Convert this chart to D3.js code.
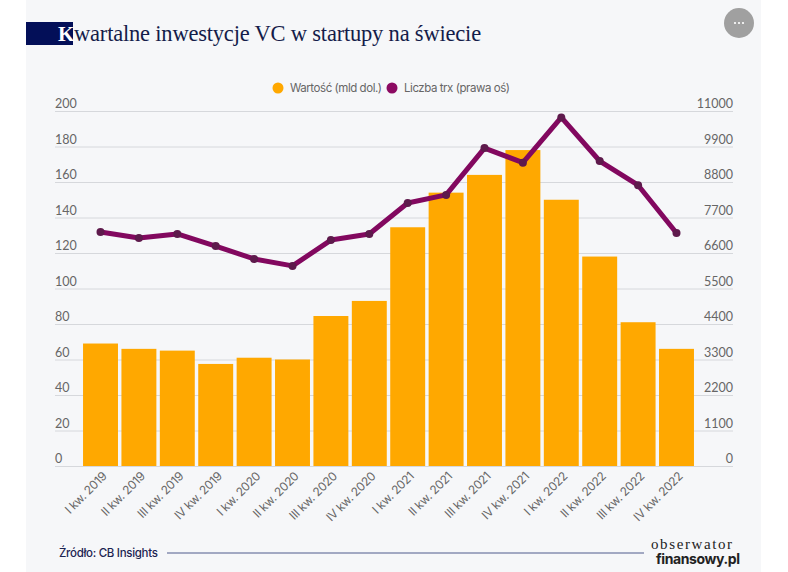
<!DOCTYPE html>
<html>
<head>
<meta charset="utf-8">
<script src="https://cdn.jsdelivr.net/npm/d3@7"></script>
<style>
  html, body { margin: 0; padding: 0; background: #fff; }
  svg { display: block; }
  .sans { font-family: Inter, Roboto, sans-serif; }
  .tick-label { font-family: Lato, sans-serif; }
  .serif { font-family: "Liberation Serif", serif; }
</style>
</head>
<body>
<svg id="chart" width="788" height="572"></svg>
<script>
const categories = ['I kw. 2019', 'II kw. 2019', 'III kw. 2019', 'IV kw. 2019',
  'I kw. 2020', 'II kw. 2020', 'III kw. 2020', 'IV kw. 2020',
  'I kw. 2021', 'II kw. 2021', 'III kw. 2021', 'IV kw. 2021',
  'I kw. 2022', 'II kw. 2022', 'III kw. 2022', 'IV kw. 2022'];
const wartosc = [69, 66, 65, 57.5, 61, 60, 84.5, 93, 134.5, 154, 164, 178, 150, 118, 81, 66];
const liczbaTrx = [7250, 7065, 7190, 6815, 6415, 6200, 7000, 7190, 8150, 8400, 9850, 9400, 10800, 9450, 8700, 7220];
const leftTicks = [0, 20, 40, 60, 80, 100, 120, 140, 160, 180, 200];
const rightTicks = [0, 1100, 2200, 3300, 4400, 5500, 6600, 7700, 8800, 9900, 11000];

const svg = d3.select('#chart');
const y0 = 466, y1 = 111, gridL = 55, gridR = 733;

// panel
svg.append('rect').attr('x', 26).attr('y', 0).attr('width', 735).attr('height', 572).attr('fill', '#f6f7f9');

// title
svg.append('rect').attr('x', 26).attr('y', 22).attr('width', 47).attr('height', 23).attr('fill', '#030f58');
svg.append('text').attr('class', 'serif').attr('x', 58).attr('y', 41)
  .attr('font-size', 21).attr('font-weight', 700).attr('fill', '#fff').text('K');
svg.append('text').attr('class', 'serif').attr('x', 74).attr('y', 41)
  .attr('font-size', 22.5).attr('letter-spacing', -0.2).attr('fill', '#141c4a').text('wartalne inwestycje VC w startupy na świecie');

// more button
svg.append('circle').attr('cx', 739).attr('cy', 23).attr('r', 15).attr('fill', '#a0a0a0');
svg.append('g').selectAll('circle').data([-4, 0, 4]).join('circle')
  .attr('cx', d => 739 + d).attr('cy', 23).attr('r', 1.1).attr('fill', '#fff');

const x = d3.scaleBand().domain(categories).range([81.5, 695.5]).paddingInner(0.09).paddingOuter(0.04);
const yL = d3.scaleLinear().domain([0, 200]).range([y0, y1]);
const yR = d3.scaleLinear().domain([0, 11000]).range([y0, y1]);

// grid + axis labels
const leftAxis = d3.axisLeft(yL).tickValues(leftTicks).tickFormat(d3.format('d')).tickSize(-(gridR - gridL)).tickPadding(0);
const gL = svg.append('g').attr('transform', `translate(${gridL},0)`).call(leftAxis);
gL.select('.domain').remove();
gL.selectAll('line').attr('stroke', '#d6d8dc');
gL.selectAll('text').attr('class', 'tick-label').attr('font-size', 12.5).attr('fill', '#666')
  .attr('text-anchor', 'start').attr('x', 0).attr('dy', -3.5);

const rightAxis = d3.axisRight(yR).tickValues(rightTicks).tickFormat(d3.format('d')).tickSize(0).tickPadding(0);
const gR = svg.append('g').attr('transform', `translate(${gridR},0)`).call(rightAxis);
gR.select('.domain').remove();
gR.selectAll('text').attr('class', 'tick-label').attr('font-size', 12.5).attr('fill', '#666')
  .attr('text-anchor', 'end').attr('x', 0).attr('dy', -3.5);

// bars
svg.append('g').selectAll('rect').data(wartosc).join('rect')
  .attr('x', (d, i) => x(categories[i]))
  .attr('y', d => yL(d))
  .attr('width', x.bandwidth())
  .attr('height', d => y0 - yL(d))
  .attr('fill', '#ffa800');

// line
const line = d3.line().x((d, i) => x(categories[i]) + x.bandwidth() / 2).y(d => yR(d));
svg.append('path').datum(liczbaTrx).attr('d', line).attr('fill', 'none')
  .attr('stroke', '#82085f').attr('stroke-width', 5).attr('stroke-linejoin', 'round');
svg.append('g').selectAll('circle').data(liczbaTrx).join('circle')
  .attr('cx', (d, i) => x(categories[i]) + x.bandwidth() / 2)
  .attr('cy', d => yR(d)).attr('r', 4).attr('fill', '#5e1a4c');

// x labels
const gX = svg.append('g').attr('transform', `translate(0,${y0})`).call(d3.axisBottom(x).tickSize(0).tickPadding(0));
gX.select('.domain').remove();
gX.selectAll('text').attr('class', 'sans').attr('font-size', 12).attr('letter-spacing', -0.3).attr('fill', '#666')
  .attr('text-anchor', 'end').attr('dy', 0)
  .attr('transform', 'translate(7,11) rotate(-45)');

// legend
svg.append('circle').attr('cx', 278).attr('cy', 88).attr('r', 5.5).attr('fill', '#ffa800');
svg.append('text').attr('class', 'sans').attr('x', 290).attr('y', 92).attr('font-size', 11.5).attr('letter-spacing', -0.45).attr('fill', '#666').text('Wartość (mld dol.)');
svg.append('circle').attr('cx', 392).attr('cy', 88).attr('r', 5.5).attr('fill', '#8c0a62');
svg.append('text').attr('class', 'sans').attr('x', 404).attr('y', 92).attr('font-size', 11.5).attr('letter-spacing', -0.45).attr('fill', '#666').text('Liczba trx (prawa oś)');

// footer
svg.append('text').attr('class', 'sans').attr('x', 59).attr('y', 557).attr('font-size', 11.5).attr('font-weight', 500).attr('letter-spacing', -0.3).attr('fill', '#1c2452').text('Źródło: CB Insights');
svg.append('line').attr('x1', 167).attr('x2', 644).attr('y1', 553).attr('y2', 553).attr('stroke', '#4f5a8c').attr('stroke-width', 1);

// logo, one text element with two lines
const logo = svg.append('text').attr('fill', '#222');
logo.append('tspan').attr('class', 'serif').attr('x', 651).attr('y', 549)
  .attr('font-size', 15).attr('letter-spacing', 1.6).text('obserwator');
logo.append('tspan').attr('class', 'sans').attr('x', 656).attr('y', 564)
  .attr('font-size', 14).attr('font-weight', 700).attr('letter-spacing', -0.4).text('finansowy.pl');
</script>
</body>
</html>
